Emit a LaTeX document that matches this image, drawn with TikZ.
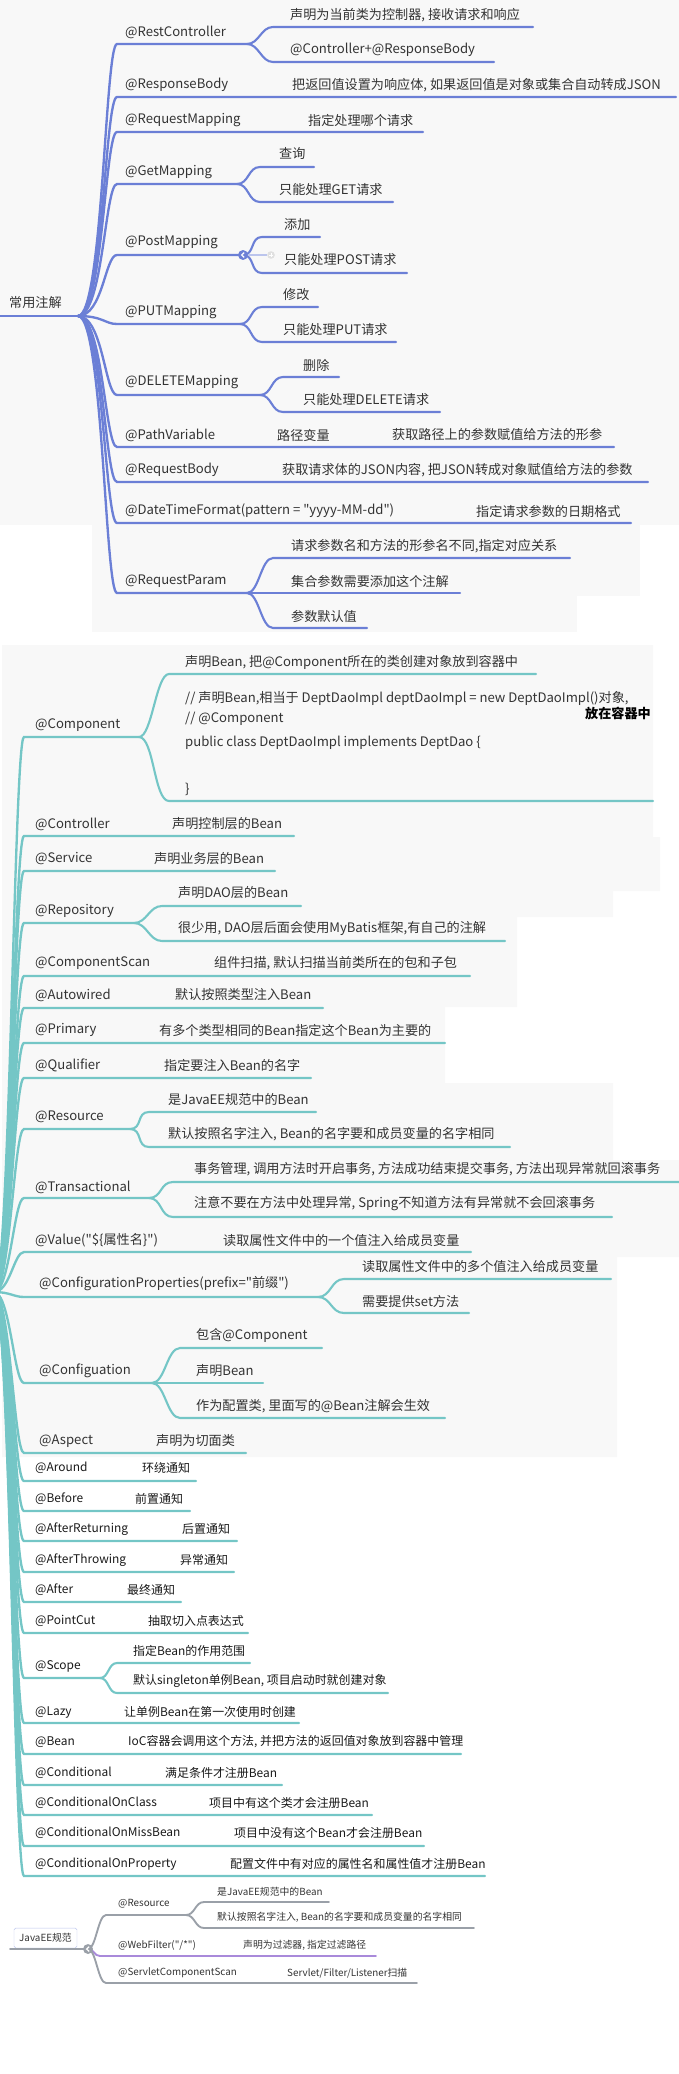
\documentclass[tikz,border=0pt]{standalone}
\usepackage{fontspec}
\setmainfont{Noto Sans CJK SC}
\usetikzlibrary{positioning}
\definecolor{mapblue}{HTML}{6B7FD6}
\definecolor{mapteal}{HTML}{74C6C6}
\definecolor{mapgray}{HTML}{9AA0A8}
\definecolor{mappurple}{HTML}{A98ADA}
\definecolor{paper}{HTML}{F8F8F8}
\definecolor{ink}{HTML}{333333}
\newcommand{\dq}{\textquotedbl{}}
\tikzset{
  lbl/.style={anchor=west,inner sep=0pt,text=ink,font=\fontsize{11.2}{13}\selectfont},
  lblsm/.style={anchor=west,inner sep=0pt,text=black!90,font=\fontsize{10.2}{12}\selectfont},
  lbltiny/.style={anchor=west,inner sep=0pt,text=ink,font=\fontsize{8.4}{10}\selectfont},
  bline/.style={draw=mapblue,line width=2pt,line cap=round},
  bsub/.style={draw=mapblue,line width=1.8pt,line cap=round},
  tline/.style={draw=mapteal,line width=2pt,line cap=round},
  tsub/.style={draw=mapteal,line width=1.8pt,line cap=round},
  gline/.style={draw=mapgray,line width=1.6pt,line cap=round},
  pline/.style={draw=mappurple,line width=1.6pt,line cap=round},
  knob/.style={circle,inner sep=0pt,minimum size=8.5pt},
  rootbox/.style={draw=mapblue!45,fill=white,rounded corners=1.5pt,inner sep=0pt,
    minimum width=18.9mm,minimum height=6mm,text=ink,font=\fontsize{8.4}{10}\selectfont}
}

\begin{document}
\begin{tikzpicture}[x=0.3mm,y=-0.3mm]
\useasboundingbox (0,0) rectangle (679,2074);
% screenshot backgrounds
\fill[paper] (0,0) rectangle (679,525);
\fill[paper] (92,525) rectangle (640,596);
\fill[paper] (92,596) rectangle (577,632);
\fill[paper] (2,645) -- (653,645) -- (653,837) -- (660,837) -- (660,891) -- (613,891)
  -- (613,917) -- (517,917) -- (517,1007) -- (445,1007) -- (445,1083) -- (613,1083)
  -- (613,1160) -- (679,1160) -- (679,1257) -- (617,1257) -- (617,1457) -- (2,1457) -- cycle;

% ---- 常用注解 ----
\coordinate (rootA) at (0,316);
\coordinate (hubA) at (78,316);
\node[lbl] (cyzj) at (9,303) {常用注解};
\draw[bline] (rootA) -- (hubA);
\foreach \n/\ty/\ly/\xe/\txt/\cx/\ctxt in {
  rb/85/97/676/{@ResponseBody}/292/{把返回值设置为响应体, 如果返回值是对象或集合自动转成JSON},
  rm/120/132/423/{@RequestMapping}/308/{指定处理哪个请求},
  rqb/470/482/648/{@RequestBody}/282/{获取请求体的JSON内容, 把JSON转成对象赋值给方法的参数},
  dtf/511/523/631/{@DateTimeFormat(pattern = \dq yyyy-MM-dd\dq)}/476/{指定请求参数的日期格式}}{
  \node[lbl] (\n) at (125,\ty) {\txt};
  \node[lbl] (\n-t) at (\cx,\ty) {\ctxt};
  \coordinate (\n-e) at (\xe,\ly);
  \draw[bline] (hubA) .. controls +(25,0) and +(-12,0) .. (117,\ly) -- (\n-e);
}
\node[lbl] (pv) at (125,435) {@PathVariable};
\node[lbl] (pv-t) at (277,435) {路径变量};
\node[lbl] (pv-tt) at (392,435) {获取路径上的参数赋值给方法的形参};
\coordinate (pv-e) at (614,447);
\draw[bline] (hubA) .. controls +(25,0) and +(-12,0) .. (117,447) -- (pv-e);
\foreach \n/\ty/\ly/\xj/\txt in {
  rc/32/44/247/{@RestController},
  gm/172/184/237/{@GetMapping},
  pm/242/255/243/{@PostMapping},
  put/312/324/240/{@PUTMapping},
  del/382/395/260/{@DELETEMapping},
  rp/581/593/247/{@RequestParam}}{
  \node[lbl] (\n) at (125,\ty) {\txt};
  \coordinate (\n-j) at (\xj,\ly);
  \draw[bline] (hubA) .. controls +(25,0) and +(-12,0) .. (117,\ly) -- (\n-j);
}
\foreach \p/\ty/\ly/\xs/\xe/\cx/\txt [count=\i] in {
  rc/15/27/273/533/290/{声明为当前类为控制器, 接收请求和响应},
  rc/50/62/273/494/290/{@Controller+@ResponseBody},
  gm/154/167/260/314/279/{查询},
  gm/190/202/260/393/279/{只能处理GET请求},
  pm/225/237/262/320/284/{添加},
  pm/260/273/262/407/284/{只能处理POST请求},
  put/295/307/262/318/283/{修改},
  put/330/342/262/396/283/{只能处理PUT请求},
  del/365/377/283/339/303/{删除},
  del/400/412/283/440/303/{只能处理DELETE请求},
  rp/546/558/273/570/291/{请求参数名和方法的形参名不同,指定对应关系},
  rp/581/593/273/460/291/{集合参数需要添加这个注解},
  rp/616/628/273/367/291/{参数默认值}}{
  \node[lbl] (\p-c\i) at (\cx,\ty) {\txt};
  \draw[bsub] (\p-j) .. controls +(12,0) and +(-12,0) .. (\xs,\ly) -- (\xe,\ly);
}
% collapse knob
\node[knob,fill=black!12,minimum size=6.5pt] (pmp) at (271,255) {};
\draw[mapblue!45,line width=1.2pt] (pm-j) -- (pmp);
\draw[white,line width=0.8pt] ([xshift=-1.8pt]pmp.center) -- ([xshift=1.8pt]pmp.center)
  ([yshift=-1.8pt]pmp.center) -- ([yshift=1.8pt]pmp.center);
\node[knob,fill=mapblue] (pmk) at (pm-j) {};
\draw[white,line width=1pt] ([xshift=1pt,yshift=2pt]pmk.center) -- ([xshift=-1.2pt]pmk.center)
  -- ([xshift=1pt,yshift=-2pt]pmk.center);

% ---- Spring 注解 ----
\coordinate (hubT) at (-6,1292);
\foreach \n/\ty/\ly/\xe/\lx/\txt/\cx/\ctxt in {
  ctl/824/836/294/35/{@Controller}/172/{声明控制层的Bean},
  svc/859/871/275/35/{@Service}/154/{声明业务层的Bean},
  cs/963/976/470/35/{@ComponentScan}/214/{组件扫描, 默认扫描当前类所在的包和子包},
  aw/995/1008/323/35/{@Autowired}/175/{默认按照类型注入Bean},
  pri/1030/1043/445/35/{@Primary}/159/{有多个类型相同的Bean指定这个Bean为主要的},
  qf/1065/1078/311/35/{@Qualifier}/164/{指定要注入Bean的名字},
  val/1240/1252/471/35/{@Value(\dq\$\{属性名\}\dq)}/223/{读取属性文件中的一个值注入给成员变量},
  asp/1441/1453/246/39/{@Aspect}/156/{声明为切面类}}{
  \node[lbl] (\n) at (\lx,\ty) {\txt};
  \node[lbl] (\n-t) at (\cx,\ty) {\ctxt};
  \coordinate (\n-e) at (\xe,\ly);
  \draw[tline] (hubT) .. controls +(16,0) and +(-10,0) .. (24,\ly) -- (\n-e);
}
\foreach \n/\ty/\ly/\xe/\txt/\cx/\ctxt in {
  ar/1468/1481/196/{@Around}/142/{环绕通知},
  bf/1499/1511/190/{@Before}/135/{前置通知},
  arr/1529/1541/237/{@AfterReturning}/182/{后置通知},
  ath/1560/1572/234/{@AfterThrowing}/180/{异常通知},
  af/1590/1602/181/{@After}/127/{最终通知},
  pc/1621/1633/248/{@PointCut}/148/{抽取切入点表达式},
  lz/1712/1723/299/{@Lazy}/124/{让单例Bean在第一次使用时创建},
  bn/1742/1754/461/{@Bean}/128/{IoC容器会调用这个方法, 并把方法的返回值对象放到容器中管理},
  cd/1773/1785/282/{@Conditional}/165/{满足条件才注册Bean},
  coc/1803/1815/372/{@ConditionalOnClass}/209/{项目中有这个类才会注册Bean},
  cmb/1833/1846/424/{@ConditionalOnMissBean}/234/{项目中没有这个Bean才会注册Bean},
  cop/1864/1876/485/{@ConditionalOnProperty}/230/{配置文件中有对应的属性名和属性值才注册Bean}}{
  \node[lblsm] (\n) at (35,\ty) {\txt};
  \node[lblsm] (\n-t) at (\cx,\ty) {\ctxt};
  \coordinate (\n-e) at (\xe,\ly);
  \draw[tline] (hubT) .. controls +(16,0) and +(-10,0) .. (24,\ly) -- (\n-e);
}
\foreach \n/\ty/\ly/\xj/\lx/\txt in {
  cp/725/737/139/35/{@Component},
  rep/911/923/134/35/{@Repository},
  res/1117/1129/130/35/{@Resource},
  tx/1187/1198/149/35/{@Transactional},
  cfp/1284/1297/318/39/{@ConfigurationProperties(prefix=\dq 前缀\dq)},
  cfg/1371/1383/152/39/{@Configuation}}{
  \node[lbl] (\n) at (\lx,\ty) {\txt};
  \coordinate (\n-j) at (\xj,\ly);
  \draw[tline] (hubT) .. controls +(16,0) and +(-10,0) .. (24,\ly) -- (\n-j);
}
\node[lblsm] (sc) at (35,1666) {@Scope};
\coordinate (sc-j) at (100,1678);
\draw[tline] (hubT) .. controls +(16,0) and +(-10,0) .. (24,1678) -- (sc-j);
\foreach \p/\ty/\ly/\xs/\xe/\cx/\txt [count=\i] in {
  cp/662/674/169/536/185/{声明Bean, 把@Component所在的类创建对象放到容器中},
  rep/893/906/162/301/178/{声明DAO层的Bean},
  rep/928/941/162/505/178/{很少用, DAO层后面会使用MyBatis框架,有自己的注解},
  res/1099/1112/149/316/168/{是JavaEE规范中的Bean},
  res/1134/1147/149/510/168/{默认按照名字注入, Bean的名字要和成员变量的名字相同},
  tx/1169/1182/173/679/194/{事务管理, 调用方法时开启事务, 方法成功结束提交事务, 方法出现异常就回滚事务},
  tx/1204/1217/173/612/194/{注意不要在方法中处理异常, Spring不知道方法有异常就不会回滚事务},
  cfp/1266/1279/344/611/362/{读取属性文件中的多个值注入给成员变量},
  cfp/1301/1313/344/469/362/{需要提供set方法},
  cfg/1335/1348/180/322/196/{包含@Component},
  cfg/1371/1383/180/263/196/{声明Bean},
  cfg/1406/1418/180/445/196/{作为配置类, 里面写的@Bean注解会生效}}{
  \node[lbl] (\p-c\i) at (\cx,\ty) {\txt};
  \draw[tsub] (\p-j) .. controls +(13,0) and +(-13,0) .. (\xs,\ly) -- (\xe,\ly);
}
\foreach \ty/\ly/\xe/\txt [count=\i] in {
  1651/1663/250/{指定Bean的作用范围},
  1681/1693/388/{默认singleton单例Bean, 项目启动时就创建对象}}{
  \node[lblsm] (sc-c\i) at (133,\ty) {\txt};
  \draw[tsub] (sc-j) .. controls +(9,0) and +(-9,0) .. (117,\ly) -- (\xe,\ly);
}
% code note of @Component
\draw[tsub] (cp-j) .. controls +(15,0) and +(-15,0) .. (169,801) -- (653,801);
\begin{scope}
  \clip (180,680) rectangle (653,810);
  \node[lbl] (code1) at (185,698) {// 声明Bean,相当于 DeptDaoImpl deptDaoImpl = new DeptDaoImpl()对象,};
\end{scope}
\node[lbl,text=black,font=\fontsize{11.2}{13}\selectfont\bfseries] (code1b) at (585,713) {放在容器中};
\node[lbl] (code2) at (185,719) {// @Component};
\node[lbl] (code3) at (185,743) {public class DeptDaoImpl implements DeptDao \{};
\node[lbl] (code4) at (185,789) {\}};

% ---- JavaEE规范 ----
\node[rootbox] (jee) at (45.5,1938) {JavaEE规范};
\coordinate (jeeL) at (10,1949);
\coordinate (hubC) at (88,1949);
\draw[gline] (jeeL) -- (hubC);
\node[lbltiny] (jres) at (118,1904) {@Resource};
\coordinate (jres-j) at (186,1915);
\draw[gline] (hubC) .. controls +(8,0) and +(-8,0) .. (106,1915) -- (jres-j);
\foreach \ty/\ly/\xe/\txt [count=\i] in {
  1892/1902/329/{是JavaEE规范中的Bean},
  1917/1928/474/{默认按照名字注入, Bean的名字要和成员变量的名字相同}}{
  \node[lbltiny] (jres-c\i) at (217,\ty) {\txt};
  \draw[gline] (jres-j) .. controls +(9,0) and +(-9,0) .. (204,\ly) -- (\xe,\ly);
}
\node[lbltiny] (wf) at (118,1945) {@WebFilter(\dq/*\dq)};
\node[lbltiny] (wf-t) at (243,1945) {声明为过滤器, 指定过滤路径};
\coordinate (wf-e) at (376,1956);
\draw[pline] (hubC) .. controls +(6,0) and +(-6,0) .. (100,1956) -- (wf-e);
\node[lbltiny] (scs) at (118,1973) {@ServletComponentScan};
\node[lbltiny] (scs-t) at (287,1973) {Servlet/Filter/Listener扫描};
\coordinate (scs-e) at (417,1983);
\draw[gline] (hubC) .. controls +(8,0) and +(-8,0) .. (106,1983) -- (scs-e);
\node[knob,fill=mapgray] (jk) at (hubC) {};
\draw[white,line width=1pt] ([xshift=1pt,yshift=2pt]jk.center) -- ([xshift=-1.2pt]jk.center)
  -- ([xshift=1pt,yshift=-2pt]jk.center);
\end{tikzpicture}
\end{document}
